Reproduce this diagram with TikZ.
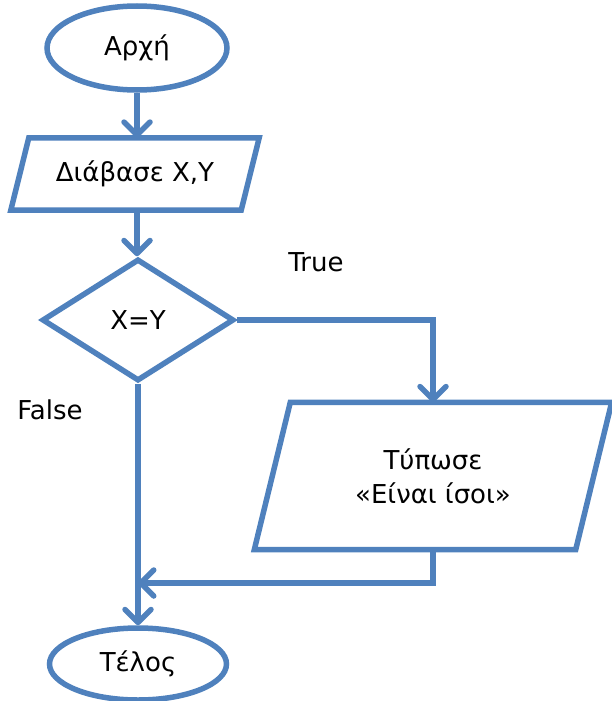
\documentclass[tikz,border=0pt]{standalone}
\usepackage{fontspec}
\setmainfont{DejaVu Sans}
\usetikzlibrary{shapes.geometric,arrows.meta,calc}
\definecolor{fblue}{HTML}{4F81BD}
\begin{document}
\begin{tikzpicture}[x=1pt,y=-1pt,
  every node/.style={font=\fontsize{26}{34}\selectfont, text=black},
  shp/.style={draw=fblue, line width=5.5pt, fill=white},
  term/.style={shp, ellipse, inner sep=0pt},
  para/.style={inner sep=0pt, align=center},
  cond/.style={shp, diamond, inner sep=0pt},
  conn/.style={draw=fblue, line width=5.5pt},
  arr/.style={conn, -{Straight Barb[length=13pt,width=26pt,round]}},
  lbl/.style={inner sep=0pt}
]
\useasboundingbox (0,0) rectangle (612,701);
\node[term, minimum width=180pt, minimum height=84pt] (start) at (137,48) {Αρχή};
\node[para, minimum width=230pt, minimum height=72pt] (read) at (135,174) {Διάβασε X,Y};
\node[cond, minimum width=192pt, minimum height=122pt] (dec) at (138,320) {X=Y};
\node[para, minimum width=321pt, minimum height=147pt] (out) at (433,476) {Τύπωσε\\«Είναι ίσοι»};
\node[term, minimum width=177pt, minimum height=72pt] (end) at (138,664) {Τέλος};
\node[lbl] (true) at (316,262) {True};
\node[lbl] (false) at (50,410) {False};
\coordinate (j) at (138,583);
% parallelograms
\draw[shp, line join=miter]
  ($(read.north west)+(9,0)$) -- ($(read.north east)+(9,0)$) --
  ($(read.south east)+(-9,0)$) -- ($(read.south west)+(-9,0)$) -- cycle;
\draw[shp, line join=miter]
  ($(out.north west)+(18,0)$) -- ($(out.north east)+(18,0)$) --
  ($(out.south east)+(-18,0)$) -- ($(out.south west)+(-18,0)$) -- cycle;
\node[para] at (read) {Διάβασε X,Y};
\node[para] at (out) {Τύπωσε\\«Είναι ίσοι»};
% connectors
\draw[arr] (start.south) -- (start.south |- read.north);
\draw[arr] (start.south |- read.south) -- (start.south |- dec.north);
\draw[arr] (dec.east) -| (out.north);
\draw[arr] (dec.south) -- (end.north);
\draw[arr] (out.south) |- (j);
\end{tikzpicture}
\end{document}
